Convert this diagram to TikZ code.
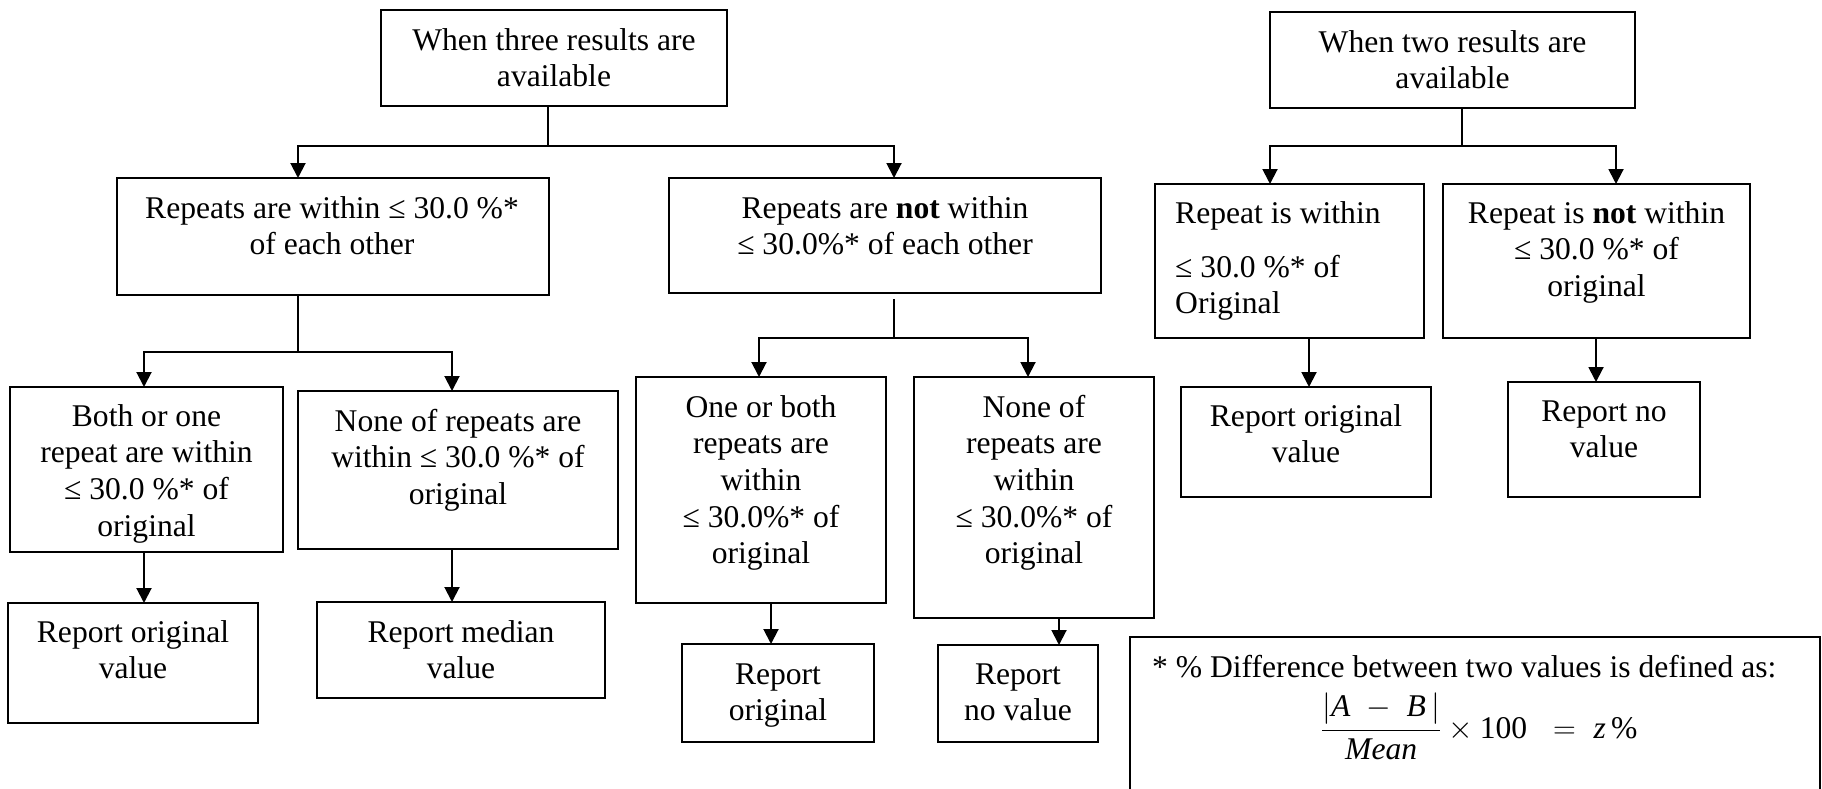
\documentclass[tikz,border=0pt]{standalone}
\usepackage{fix-cm}
\usepackage{fontspec}
\setmainfont{Liberation Serif}
\usetikzlibrary{arrows.meta}
\begin{document}
\begin{tikzpicture}[x=1pt,y=-1pt,
  box/.style={draw, line width=2.2pt, inner sep=0pt, outer sep=0pt},
  wh/.style 2 args={minimum width=#1pt, minimum height=#2pt},
  txt/.style={font=\fontsize{31.6}{36.7}\selectfont, inner sep=0pt, align=center, anchor=north},
  ftxt/.style={font=\fontsize{31.6}{36.7}\selectfont, inner sep=0pt},
  conn/.style={line width=2pt},
  arr/.style={line width=2pt, -{Triangle[width=15pt,length=15pt]}}
]
\useasboundingbox (0,0) rectangle (1822,789);
\clip (0,0) rectangle (1822,789);

% ---- boxes ----
\node[box, wh={346}{96}] (T3) at (554,58) {};
\node[txt] (tT3) at (554,24.3) {\strut When three results are\\\strut available};

\node[box, wh={365}{96}] (T2) at (1452.5,60) {};
\node[txt] (tT2) at (1452.5,26.3) {\strut When two results are\\\strut available};

\node[box, wh={432}{117}] (A) at (333,236.5) {};
\node[txt] (tA) at (332,192.3) {\strut Repeats are within ≤ 30.0 \%*\\\strut of each other};

\node[box, wh={432}{115}] (B) at (885,235.5) {};
\node[txt] (tB) at (885,192.3) {\strut Repeats are \textbf{not} within\\\strut ≤ 30.0\%* of each other};

\node[box, wh={273}{165}] (C) at (146.5,469.5) {};
\node[txt] (tC) at (146.5,400.3) {\strut Both or one\\\strut repeat are within\\\strut ≤ 30.0 \%* of\\\strut original};

\node[box, wh={320}{158}] (D) at (458,470) {};
\node[txt] (tD) at (458,405.3) {\strut None of repeats are\\\strut within ≤ 30.0 \%* of\\\strut original};

\node[box, wh={250}{120}] (K) at (133,663) {};
\node[txt] (tK) at (133,616.3) {\strut Report original\\\strut value};

\node[box, wh={288}{96}] (L) at (461,650) {};
\node[txt] (tL) at (461,616.3) {\strut Report median\\\strut value};

\node[box, wh={250}{226}] (E) at (761,490) {};
\node[txt] (tE) at (761,391.3) {\strut One or both\\\strut repeats are\\\strut within\\\strut ≤ 30.0\%* of\\\strut original};

\node[box, wh={240}{241}] (F) at (1034,497.5) {};
\node[txt] (tF) at (1034,391.3) {\strut None of\\\strut repeats are\\\strut within\\\strut ≤ 30.0\%* of\\\strut original};

\node[box, wh={192}{98}] (M) at (778,693) {};
\node[txt] (tM) at (778,658.3) {\strut Report\\\strut original};

\node[box, wh={160}{97}] (N) at (1018,693.5) {};
\node[txt] (tN) at (1018,658.3) {\strut Report\\\strut no value};

\node[box, wh={269}{154}] (G) at (1289.5,261) {};
\node[txt, anchor=north west, align=left] (tG) at (1175,197.3) {\strut Repeat is within\\[17.3pt]\strut ≤ 30.0 \%* of\\\strut Original};

\node[box, wh={307}{154}] (I) at (1596.5,261) {};
\node[txt] (tI) at (1596.5,197.3) {\strut Repeat is \textbf{not} within\\\strut ≤ 30.0 \%* of\\\strut original};

\node[box, wh={250}{110}] (H) at (1306,442) {};
\node[txt] (tH) at (1306,400.3) {\strut Report original\\\strut value};

\node[box, wh={192}{115}] (J) at (1604,439.5) {};
\node[txt] (tJ) at (1604,395.3) {\strut Report no\\\strut value};

% ---- note box ----
\node[box, wh={690}{200}] (Fm) at (1475,737) {};
\node[ftxt, anchor=base west] (fd) at (1152,677) {* \% Difference between two values is defined as:};
\node[ftxt, anchor=base west] (fm) at (1321,738) {$\displaystyle\frac{\bigl|\textit{A}\;-\;\textit{B}\,\bigr|}{\textit{Mean}}\times\mbox{100}\hspace{17pt}=\hspace{9pt}\textit{z}\,\mbox{\%}$};

% ---- connectors: three results ----
\coordinate (j1) at (548,146);
\coordinate (xa) at (298,0);
\coordinate (xb) at (894,0);
\draw[conn] (T3.south -| j1) -- (j1);
\draw[arr] (j1) -| (A.north -| xa);
\draw[arr] (j1) -| (B.north -| xb);

\coordinate (j2) at (298,352);
\coordinate (xc) at (144,0);
\coordinate (xd) at (452,0);
\draw[conn] (A.south -| j2) -- (j2);
\draw[arr] (j2) -| (C.north -| xc);
\draw[arr] (j2) -| (D.north -| xd);
\draw[arr] (C.south -| xc) -- (K.north -| xc);
\draw[arr] (D.south -| xd) -- (L.north -| xd);

\coordinate (j3) at (894,338);
\coordinate (xe) at (759,0);
\coordinate (xf) at (1028,0);
\coordinate (xm) at (771,0);
\coordinate (xn) at (1059,0);
\draw[conn, shorten <=6pt] (B.south -| j3) -- (j3);
\draw[arr] (j3) -| (E.north -| xe);
\draw[arr] (j3) -| (F.north -| xf);
\draw[arr] (E.south -| xm) -- (M.north -| xm);
\draw[arr] (F.south -| xn) -- (N.north -| xn);

% ---- connectors: two results ----
\coordinate (j4) at (1462,146);
\coordinate (xg) at (1270,0);
\coordinate (xi) at (1616,0);
\coordinate (xh) at (1309,0);
\coordinate (xj) at (1596,0);
\draw[conn] (T2.south -| j4) -- (j4);
\draw[arr] (j4) -| (G.north -| xg);
\draw[arr] (j4) -| (I.north -| xi);
\draw[arr] (G.south -| xh) -- (H.north -| xh);
\draw[arr] (I.south -| xj) -- (J.north -| xj);
\end{tikzpicture}
\end{document}
